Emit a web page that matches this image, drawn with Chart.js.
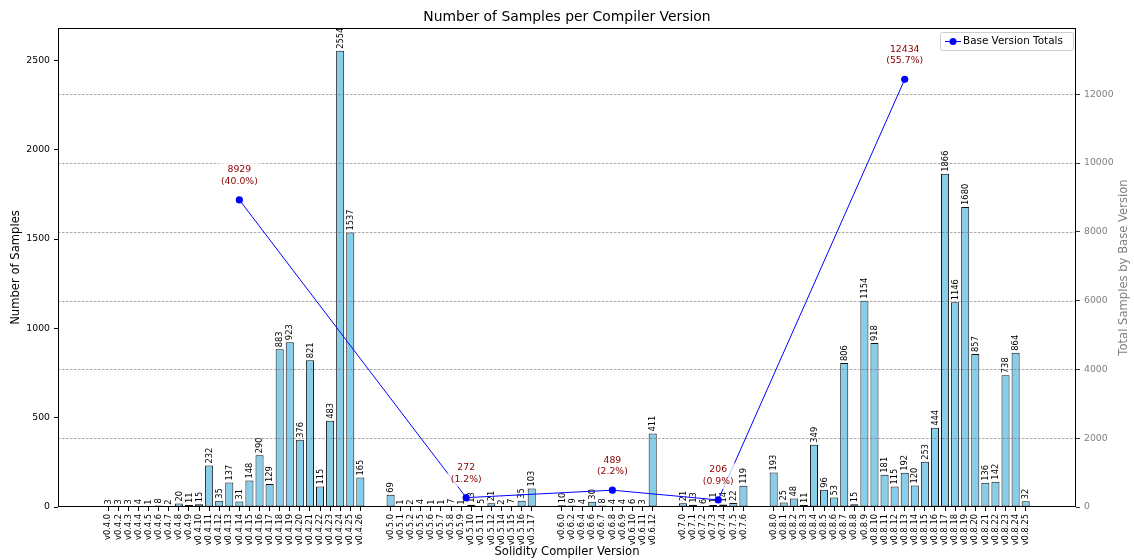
<!DOCTYPE html>
<html><head><meta charset="utf-8">
<script src="https://cdn.jsdelivr.net/npm/chart.js@4"></script>
<style>html,body{margin:0;padding:0;background:#fff}canvas{display:block}</style>
</head><body>
<canvas id="c" width="1134" height="560"></canvas>
<script>
// ---------------- data ----------------
const v04Versions = ['v0.4.0','v0.4.2','v0.4.3','v0.4.4','v0.4.5','v0.4.6','v0.4.7','v0.4.8','v0.4.9','v0.4.10','v0.4.11','v0.4.12','v0.4.13','v0.4.14','v0.4.15','v0.4.16','v0.4.17','v0.4.18','v0.4.19','v0.4.20','v0.4.21','v0.4.22','v0.4.23','v0.4.24','v0.4.25','v0.4.26'];
const v04Counts   = [3,3,3,4,1,8,2,20,11,15,232,35,137,31,148,290,129,883,923,376,821,115,483,2554,1537,165];
const v05Versions = ['v0.5.0','v0.5.1','v0.5.2','v0.5.5','v0.5.6','v0.5.7','v0.5.8','v0.5.9','v0.5.10','v0.5.11','v0.5.12','v0.5.14','v0.5.15','v0.5.16','v0.5.17'];
const v05Counts   = [69,1,2,4,1,1,7,1,13,5,21,2,7,35,103];
const v06Versions = ['v0.6.0','v0.6.2','v0.6.4','v0.6.6','v0.6.7','v0.6.8','v0.6.9','v0.6.10','v0.6.11','v0.6.12'];
const v06Counts   = [10,9,4,30,8,4,4,6,3,411];
const v07Versions = ['v0.7.0','v0.7.1','v0.7.2','v0.7.3','v0.7.4','v0.7.5','v0.7.6'];
const v07Counts   = [21,13,6,11,14,22,119];
const v08Versions = ['v0.8.0','v0.8.1','v0.8.2','v0.8.3','v0.8.4','v0.8.5','v0.8.6','v0.8.7','v0.8.8','v0.8.9','v0.8.10','v0.8.11','v0.8.12','v0.8.13','v0.8.14','v0.8.15','v0.8.16','v0.8.17','v0.8.18','v0.8.19','v0.8.20','v0.8.21','v0.8.22','v0.8.23','v0.8.24','v0.8.25'];
const v08Counts   = [193,25,48,11,349,96,53,806,15,1154,918,181,115,192,120,253,444,1866,1146,1680,857,136,142,738,864,32];
const baseVersions = ['v0.4','v0.5','v0.6','v0.7','v0.8'];
const leftTickValues  = [0,500,1000,1500,2000,2500];
const rightTickValues = [0,2000,4000,6000,8000,10000,12000];

// ---------------- build ----------------
const FONT = '"DejaVu Sans", "Liberation Sans", sans-serif';
const GROUP_GAP = 2;
const groups = [[v04Versions,v04Counts],[v05Versions,v05Counts],[v06Versions,v06Counts],[v07Versions,v07Counts],[v08Versions,v08Counts]];
const barPoints = [], tickPositions = [], tickText = {}, linePoints = [];
let pos = 0;
groups.forEach(([vers, cnts]) => {
  const start = pos;
  vers.forEach((v, i) => { barPoints.push({x: pos, y: cnts[i]}); tickPositions.push(pos); tickText[pos] = v; pos++; });
  linePoints.push({x: start + vers.length / 2, y: cnts.reduce((a, b) => a + b, 0)});
  pos += GROUP_GAP;
});
const lastPos = tickPositions[tickPositions.length - 1];
const grandTotal = linePoints.reduce((a, p) => a + p.y, 0);
const maxCount = Math.max(...barPoints.map(p => p.y));
const maxTotal = Math.max(...linePoints.map(p => p.y));
const span = (lastPos + 0.4) - (-0.4);
const xMin = -0.4 - 0.05 * span, xMax = lastPos + 0.4 + 0.05 * span;

const deco = {
  id: 'deco',
  beforeDatasetDraw(chart, args) {
    if (args.index !== 1) return;
    const ctx = chart.ctx, a = chart.chartArea;
    // bar value labels
    const meta = chart.getDatasetMeta(0);
    ctx.save();
    ctx.fillStyle = '#000';
    ctx.font = '8.3px ' + FONT;
    ctx.textAlign = 'left'; ctx.textBaseline = 'middle';
    meta.data.forEach((el, i) => {
      ctx.save();
      ctx.translate(el.x + 0.5, el.y - 2);
      ctx.rotate(-Math.PI / 2);
      ctx.fillText(String(barPoints[i].y), 0, 0);
      ctx.restore();
    });
    // grid (right axis)
    const y1 = chart.scales.y1;
    ctx.strokeStyle = 'rgba(110,110,110,0.75)';
    ctx.lineWidth = 0.8;
    ctx.setLineDash([2.5, 1.5]);
    rightTickValues.forEach(v => {
      if (v === 0) return;
      const y = Math.round(y1.getPixelForValue(v)) + 0.5;
      ctx.beginPath(); ctx.moveTo(a.left, y); ctx.lineTo(a.right, y); ctx.stroke();
    });
    ctx.restore();
  },
  afterDatasetsDraw(chart) {
    const ctx = chart.ctx, a = chart.chartArea;
    ctx.save();
    // annotations
    const lm = chart.getDatasetMeta(1);
    ctx.font = '9.3px ' + FONT;
    ctx.textAlign = 'center'; ctx.textBaseline = 'middle';
    lm.data.forEach((el, i) => {
      const v = linePoints[i].y;
      const l1 = String(v), l2 = '(' + (v / grandTotal * 100).toFixed(1) + '%)';
      const w = Math.max(ctx.measureText(l1).width, ctx.measureText(l2).width);
      ctx.fillStyle = 'rgba(255,255,255,0.75)';
      ctx.beginPath();
      ctx.roundRect(el.x - w / 2 - 3, el.y - 37, w + 6, 26, 3);
      ctx.fill();
      ctx.fillStyle = '#8B0000';
      ctx.fillText(l1, el.x, el.y - 30);
      ctx.fillText(l2, el.x, el.y - 18.5);
    });
    // frame
    ctx.strokeStyle = '#000'; ctx.lineWidth = 1;
    ctx.strokeRect(a.left + 0.5, a.top + 0.5, a.right - a.left - 1, a.bottom - a.top - 1);
    // legend
    const lx = 940, ly = 32, lw = 133, lh = 18;
    ctx.fillStyle = 'rgba(255,255,255,0.8)';
    ctx.strokeStyle = '#cccccc';
    ctx.beginPath(); ctx.roundRect(lx + 0.5, ly + 0.5, lw, lh, 2); ctx.fill(); ctx.stroke();
    ctx.strokeStyle = 'blue'; ctx.lineWidth = 1;
    ctx.beginPath(); ctx.moveTo(945, ly + 9.5); ctx.lineTo(961, ly + 9.5); ctx.stroke();
    ctx.fillStyle = 'blue';
    ctx.beginPath(); ctx.arc(953, ly + 9.5, 3.5, 0, Math.PI * 2); ctx.fill();
    ctx.fillStyle = '#000'; ctx.font = '10.4px ' + FONT; ctx.textAlign = 'left';
    ctx.fillText('Base Version Totals', 963, ly + 9.5);
    // titles
    ctx.textAlign = 'center';
    ctx.fillStyle = '#000';
    ctx.font = '13.9px ' + FONT;
    ctx.fillText('Number of Samples per Compiler Version', (a.left + a.right) / 2, 17);
    ctx.font = '11.6px ' + FONT;
    ctx.fillText('Solidity Compiler Version', (a.left + a.right) / 2, 552);
    ctx.save(); ctx.translate(16, (a.top + a.bottom) / 2); ctx.rotate(-Math.PI / 2);
    ctx.fillText('Number of Samples', 0, 0); ctx.restore();
    ctx.fillStyle = '#808080';
    ctx.save(); ctx.translate(1124, (a.top + a.bottom) / 2); ctx.rotate(-Math.PI / 2);
    ctx.fillText('Total Samples by Base Version', 0, 0); ctx.restore();
    ctx.restore();
  }
};

new Chart(document.getElementById('c'), {
  data: {
    datasets: [
      { type: 'bar', label: 'Samples', data: barPoints, xAxisID: 'x', yAxisID: 'y',
        backgroundColor: '#87CEEB', borderColor: '#111', borderWidth: 1, borderSkipped: false,
        barPercentage: 0.8, categoryPercentage: 1.0, order: 2 },
      { type: 'line', label: 'Base Version Totals', data: linePoints, xAxisID: 'x', yAxisID: 'y1',
        borderColor: 'blue', borderWidth: 1, pointRadius: 3.6, pointBackgroundColor: 'blue',
        pointBorderColor: 'blue', pointBorderWidth: 0, tension: 0, order: 1 }
    ]
  },
  options: {
    responsive: false, animation: false, devicePixelRatio: 1, events: [],
    layout: { padding: { top: 28, left: 0, right: 0, bottom: 0 } },
    plugins: { legend: { display: false }, tooltip: { enabled: false }, title: { display: false } },
    scales: {
      x: {
        type: 'linear', position: 'bottom', min: xMin, max: xMax, offset: false,
        afterBuildTicks: s => { s.ticks = tickPositions.map(v => ({ value: v })); },
        afterFit: s => { s.height = 53; },
        ticks: { autoSkip: false, minRotation: 90, maxRotation: 90, padding: 3, color: '#000',
                 font: { size: 8.3, family: FONT }, callback: v => tickText[v] },
        grid: { drawOnChartArea: false, drawTicks: true, tickLength: 4, tickColor: '#000', tickWidth: 1, offset: false },
        border: { display: false }
      },
      y: {
        type: 'linear', position: 'left', min: 0, max: maxCount * 1.05,
        afterBuildTicks: s => { s.ticks = leftTickValues.map(v => ({ value: v })); },
        afterFit: s => { s.width = 58; },
        ticks: { padding: 4, color: '#000', font: { size: 9.3, family: FONT }, callback: v => String(v) },
        grid: { drawOnChartArea: false, drawTicks: true, tickLength: 4, tickColor: '#000' },
        border: { display: false }
      },
      y1: {
        type: 'linear', position: 'right', min: 0, max: maxTotal * 1.12,
        afterBuildTicks: s => { s.ticks = rightTickValues.map(v => ({ value: v })); },
        afterFit: s => { s.width = 58; },
        ticks: { padding: 4, color: '#808080', font: { size: 9.3, family: FONT }, callback: v => String(v) },
        grid: { drawOnChartArea: false, drawTicks: true, tickLength: 4, tickColor: '#333' },
        border: { display: false }
      }
    }
  },
  plugins: [deco]
});
</script>
</body></html>
